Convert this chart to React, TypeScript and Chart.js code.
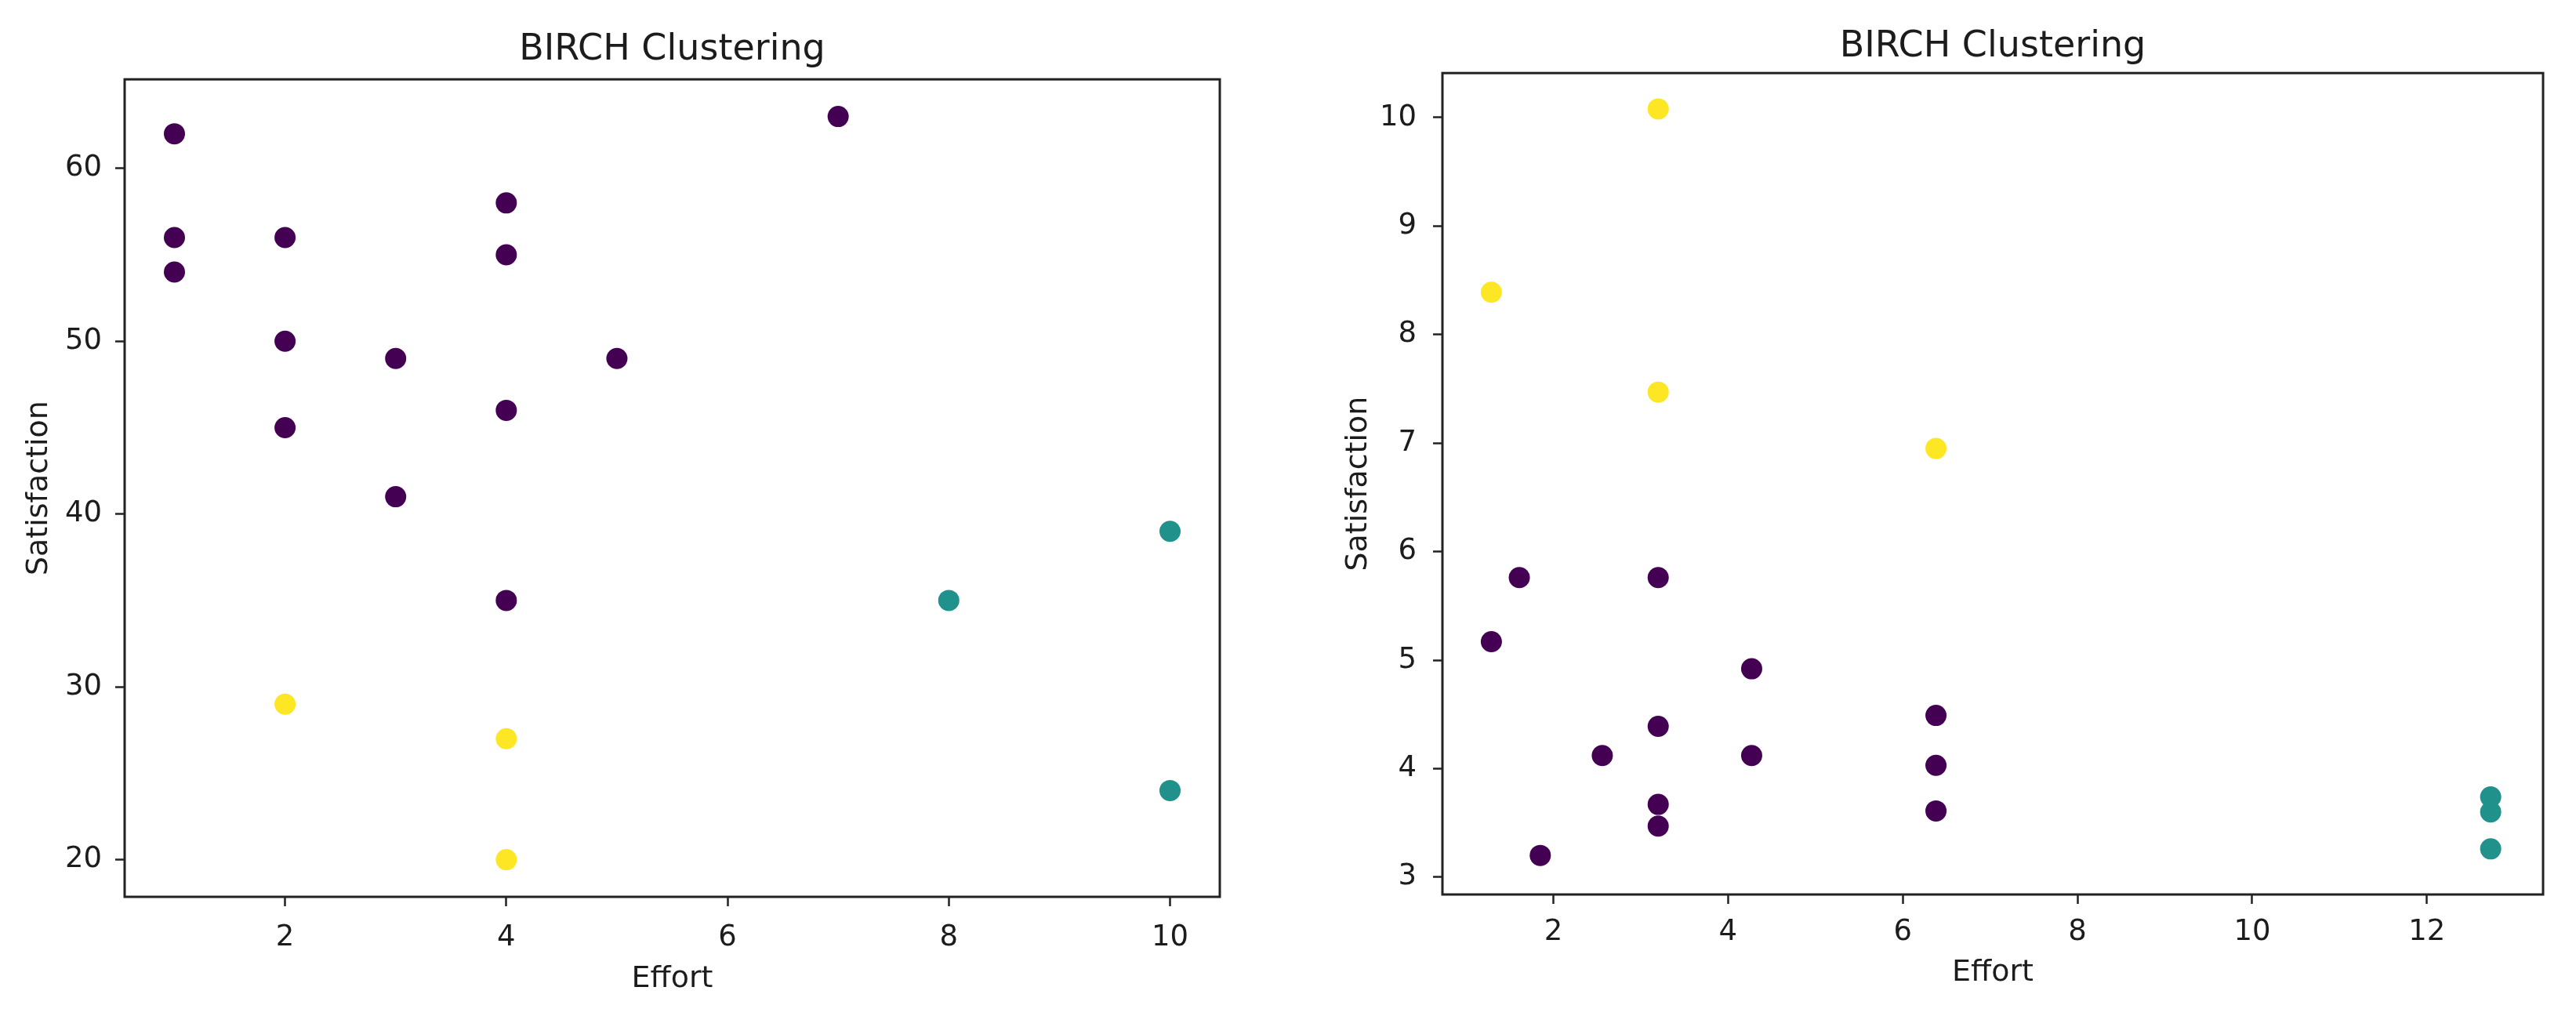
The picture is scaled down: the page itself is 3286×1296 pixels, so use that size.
import React, { useEffect, useRef } from 'react';
import { Chart, registerables } from 'chart.js';

Chart.register(...registerables);

// ---------- Data ----------
const CHART_TITLE = 'BIRCH Clustering';
const X_LABEL = 'Effort';
const Y_LABEL = 'Satisfaction';

// Left panel
const leftPurpleX = [1, 7, 1, 2, 1, 4, 4, 2, 3, 5, 4, 2, 3, 4];
const leftPurpleY = [62, 63, 56, 56, 54, 58, 55, 50, 49, 49, 46, 45, 41, 35];
const leftTealX = [10, 8, 10];
const leftTealY = [39, 35, 24];
const leftYellowX = [2, 4, 4];
const leftYellowY = [29, 27, 20];
const leftXTicks = [2, 4, 6, 8, 10];
const leftYTicks = [20, 30, 40, 50, 60];
const leftXRange = [0.55, 10.45];
const leftYRange = [17.85, 65.15];

// Right panel
const rightYellowX = [3.2, 1.29, 3.2, 6.38];
const rightYellowY = [10.08, 8.39, 7.47, 6.95];
const rightPurpleX = [1.61, 3.2, 1.29, 4.27, 6.38, 3.2, 2.56, 4.27, 6.38, 3.2, 3.2, 6.38, 1.85];
const rightPurpleY = [5.76, 5.76, 5.17, 4.92, 4.49, 4.39, 4.12, 4.12, 4.03, 3.67, 3.47, 3.61, 3.2];
const rightTealX = [12.73, 12.73, 12.73];
const rightTealY = [3.74, 3.6, 3.26];
const rightXTicks = [2, 4, 6, 8, 10, 12];
const rightYTicks = [3, 4, 5, 6, 7, 8, 9, 10];
const rightXRange = [0.73, 13.33];
const rightYRange = [2.84, 10.41];

// ---------- Styles ----------
const PURPLE = '#440154';
const TEAL = '#21918c';
const YELLOW = '#fde725';
const FONT = 'DejaVu Sans';
const TEXT = '#1c1c1c';
const AXIS = '#222222';

const zip = (xs: number[], ys: number[]) => xs.map((x, i) => ({ x, y: ys[i] }));

const framePlugin = {
  id: 'frame',
  afterDraw(chart: any) {
    const { ctx, chartArea } = chart;
    ctx.save();
    ctx.strokeStyle = AXIS;
    ctx.lineWidth = 3;
    ctx.strokeRect(chartArea.left, chartArea.top, chartArea.right - chartArea.left, chartArea.bottom - chartArea.top);
    ctx.restore();
  },
};

type Panel = {
  left: number;
  series: { x: number[]; y: number[]; color: string }[];
  xTicks: number[];
  yTicks: number[];
  xRange: number[];
  yRange: number[];
  yAxisWidth: number;
  xAxisHeight: number;
  padRight: number;
  titlePadTop: number;
  titlePadBottom: number;
  yTitlePad: number;
  xTitlePad: number;
  yTickPad: number;
  xTickPad: number;
};

const W = 1643;
const H = 1296;

function ScatterPanel({ p }: { p: Panel }) {
  const ref = useRef<HTMLCanvasElement>(null);
  useEffect(() => {
    if (!ref.current) return;
    const chart = new Chart(ref.current, {
      type: 'scatter',
      data: {
        datasets: p.series.map((s) => ({
          data: zip(s.x, s.y),
          backgroundColor: s.color,
          borderColor: s.color,
          borderWidth: 0,
          pointRadius: 13.5,
          pointHoverRadius: 13.5,
        })),
      },
      plugins: [framePlugin],
      options: {
        animation: false,
        responsive: false,
        devicePixelRatio: 1,
        layout: { padding: { left: 0, right: p.padRight, top: 0, bottom: 0 } },
        plugins: {
          legend: { display: false },
          tooltip: { enabled: false },
          title: {
            display: true,
            fullSize: false,
            text: CHART_TITLE,
            color: TEXT,
            font: { family: FONT, size: 46, weight: 'normal' },
            padding: { top: p.titlePadTop, bottom: p.titlePadBottom },
          },
        },
        scales: {
          x: {
            type: 'linear',
            min: p.xRange[0],
            max: p.xRange[1],
            bounds: 'data',
            afterBuildTicks: (scale: any) => {
              scale.ticks = p.xTicks.map((v) => ({ value: v }));
            },
            afterFit: (scale: any) => {
              scale.height = p.xAxisHeight;
            },
            grid: {
              display: true,
              drawOnChartArea: false,
              drawTicks: true,
              tickLength: 12,
              tickWidth: 2.5,
              tickColor: AXIS,
            },
            border: { display: false },
            ticks: {
              color: TEXT,
              font: { family: FONT, size: 37 },
              padding: p.xTickPad,
              maxRotation: 0,
              autoSkip: false,
              callback: (v: any) => String(v),
            },
            title: {
              display: true,
              text: X_LABEL,
              color: TEXT,
              font: { family: FONT, size: 38 },
              padding: { top: 0, bottom: p.xTitlePad },
            },
          },
          y: {
            type: 'linear',
            min: p.yRange[0],
            max: p.yRange[1],
            bounds: 'data',
            afterBuildTicks: (scale: any) => {
              scale.ticks = p.yTicks.map((v) => ({ value: v }));
            },
            afterFit: (scale: any) => {
              scale.width = p.yAxisWidth;
            },
            grid: {
              display: true,
              drawOnChartArea: false,
              drawTicks: true,
              tickLength: 12,
              tickWidth: 2.5,
              tickColor: AXIS,
            },
            border: { display: false },
            ticks: {
              color: TEXT,
              font: { family: FONT, size: 37 },
              padding: p.yTickPad,
              autoSkip: false,
              callback: (v: any) => String(v),
            },
            title: {
              display: true,
              text: Y_LABEL,
              color: TEXT,
              font: { family: FONT, size: 38 },
              padding: { top: p.yTitlePad, bottom: 0 },
            },
          },
        },
      } as any,
    });
    return () => chart.destroy();
  }, []);
  return (
    <div style={{ position: 'absolute', left: p.left, top: 0, width: W, height: H }}>
      <canvas ref={ref} width={W} height={H} style={{ width: W, height: H, display: 'block' }} />
    </div>
  );
}

const leftPanel: Panel = {
  left: 0,
  series: [
    { x: leftPurpleX, y: leftPurpleY, color: PURPLE },
    { x: leftTealX, y: leftTealY, color: TEAL },
    { x: leftYellowX, y: leftYellowY, color: YELLOW },
  ],
  xTicks: leftXTicks,
  yTicks: leftYTicks,
  xRange: leftXRange,
  yRange: leftYRange,
  yAxisWidth: 159,
  xAxisHeight: 152,
  padRight: 87,
  titlePadTop: 36,
  titlePadBottom: 10,
  yTitlePad: 27,
  xTitlePad: 24,
  yTickPad: 17,
  xTickPad: 18,
};

const rightPanel: Panel = {
  left: 1643,
  series: [
    { x: rightPurpleX, y: rightPurpleY, color: PURPLE },
    { x: rightTealX, y: rightTealY, color: TEAL },
    { x: rightYellowX, y: rightYellowY, color: YELLOW },
  ],
  xTicks: rightXTicks,
  yTicks: rightYTicks,
  xRange: rightXRange,
  yRange: rightYRange,
  yAxisWidth: 197,
  xAxisHeight: 155,
  padRight: 42,
  titlePadTop: 32,
  titlePadBottom: 6,
  yTitlePad: 67,
  xTitlePad: 32,
  yTickPad: 21,
  xTickPad: 14,
};

export default function App() {
  return (
    <div style={{ position: 'absolute', left: 0, top: 0, width: 3286, height: 1296, background: '#fff' }}>
      <ScatterPanel p={leftPanel} />
      <ScatterPanel p={rightPanel} />
    </div>
  );
}
